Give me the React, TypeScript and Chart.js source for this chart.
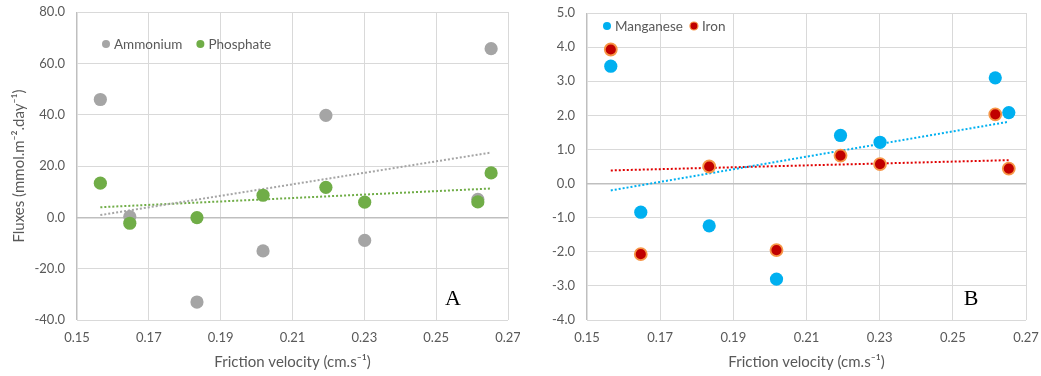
import React, { useEffect, useRef } from "react";
import { Chart, registerables } from "chart.js";

Chart.register(...registerables);

// ---- Data ----
const frictionVelocity = [0.1565, 0.1647, 0.1834, 0.2018, 0.2193, 0.2301, 0.2616, 0.2653];
const ammonium = [45.9, 0.3, -33.0, -13.1, 39.7, -9.0, 7.0, 65.7];
const phosphate = [13.3, -2.3, -0.1, 8.6, 11.7, 5.9, 6.0, 17.3];
const manganese = [3.44, -0.84, -1.24, -2.8, 1.41, 1.21, 3.1, 2.08];
const iron = [3.93, -2.07, 0.5, -1.95, 0.82, 0.57, 2.03, 0.44];

const xTicks = [0.15, 0.17, 0.19, 0.21, 0.23, 0.25, 0.27];
const yTicksA = [-40, -20, 0, 20, 40, 60, 80];
const yTicksB = [-4, -3, -2, -1, 0, 1, 2, 3, 4, 5];

const xTitle = "Friction velocity (cm.s\u207B\u00B9)";
const yTitleA = "Fluxes (mmol.m\u207B\u00B2.day\u207B\u00B9)";

const FONT = "Lato, 'Open Sans', sans-serif";
const TEXT = "#595959";
const GRID = "#d9d9d9";
const AXIS = "#bfbfbf";

const toPoints = (xs: number[], ys: number[]) => xs.map((x, i) => ({ x, y: ys[i] }));

// least-squares linear trendline (as drawn by the spreadsheet) across the data's x range
function trendline(xs: number[], ys: number[]) {
  const n = xs.length;
  const mx = xs.reduce((a, b) => a + b, 0) / n;
  const my = ys.reduce((a, b) => a + b, 0) / n;
  let sxy = 0;
  let sxx = 0;
  for (let i = 0; i < n; i++) {
    sxy += (xs[i] - mx) * (ys[i] - my);
    sxx += (xs[i] - mx) * (xs[i] - mx);
  }
  const slope = sxy / sxx;
  const x0 = Math.min(...xs);
  const x1 = Math.max(...xs);
  return [
    { x: x0, y: my + slope * (x0 - mx) },
    { x: x1, y: my + slope * (x1 - mx) },
  ];
}

type LegendItem = { label: string; fill: string; stroke?: string };

function overlayPlugin(opts: {
  legend: LegendItem[];
  dx: number;
  dy: number;
  gap: number;
  letter: string;
}) {
  return {
    id: "overlay" + opts.letter,
    afterDraw(chart: any) {
      const { ctx, chartArea } = chart;
      ctx.save();
      ctx.font = `13.5px ${FONT}`;
      ctx.textBaseline = "middle";
      ctx.textAlign = "left";
      let x = chartArea.left + opts.dx;
      const y = chartArea.top + opts.dy;
      for (const item of opts.legend) {
        ctx.beginPath();
        ctx.arc(x, y, 4, 0, Math.PI * 2);
        ctx.fillStyle = item.fill;
        ctx.fill();
        if (item.stroke) {
          ctx.lineWidth = 1.2;
          ctx.strokeStyle = item.stroke;
          ctx.stroke();
        }
        ctx.fillStyle = TEXT;
        const tx = x + 8;
        ctx.fillText(item.label, tx, y + 0.5);
        const w = ctx.measureText(item.label).width;
        x = tx + w + opts.gap;
      }
      ctx.font = `22px 'Liberation Serif', 'DejaVu Serif', serif`;
      ctx.fillStyle = "#000";
      ctx.textAlign = "center";
      ctx.textBaseline = "alphabetic";
      ctx.fillText(opts.letter, chartArea.right - 55, chartArea.bottom - 15);
      ctx.restore();
    },
  };
}

function makeConfig(p: {
  datasets: any[];
  yTicks: number[];
  yWidth: number;
  yTitle?: string;
  decimals: number;
  padding: { top: number; right: number };
  plugin: any;
}) {
  const yMin = Math.min(...p.yTicks);
  const yMax = Math.max(...p.yTicks);
  return {
    type: "scatter",
    data: { datasets: p.datasets },
    plugins: [p.plugin],
    options: {
      responsive: false,
      animation: false,
      devicePixelRatio: 1,
      layout: {
        autoPadding: false,
        padding: { left: 0, right: p.padding.right, top: p.padding.top, bottom: 0 },
      },
      plugins: {
        legend: { display: false },
        tooltip: { enabled: false },
        title: { display: false },
      },
      scales: {
        x: {
          type: "linear",
          min: xTicks[0],
          max: xTicks[xTicks.length - 1],
          afterBuildTicks: (s: any) => {
            s.ticks = xTicks.map((v) => ({ value: v }));
          },
          afterFit: (s: any) => {
            s.height = 56;
            s.paddingLeft = 0;
            s.paddingRight = 0;
            s.paddingTop = 0;
            s.paddingBottom = 0;
          },
          grid: {
            color: (c: any) => (c.tick && Math.abs(c.tick.value - xTicks[0]) < 1e-9 ? AXIS : GRID),
            lineWidth: (c: any) => (c.tick && Math.abs(c.tick.value - xTicks[0]) < 1e-9 ? 1.5 : 1),
            drawTicks: false,
          },
          border: { display: false },
          ticks: {
            padding: 10,
            color: TEXT,
            autoSkip: false,
            maxRotation: 0,
            font: { family: FONT, size: 13 },
            callback: (v: any) => Number(v).toFixed(2),
          },
          title: {
            display: true,
            text: xTitle,
            color: TEXT,
            font: { family: FONT, size: 15 },
            padding: { top: 0, bottom: 5 },
          },
        },
        y: {
          type: "linear",
          min: yMin,
          max: yMax,
          afterBuildTicks: (s: any) => {
            s.ticks = p.yTicks.map((v) => ({ value: v }));
          },
          afterFit: (s: any) => {
            s.width = p.yWidth;
            s.paddingLeft = 0;
            s.paddingRight = 0;
            s.paddingTop = 0;
            s.paddingBottom = 0;
          },
          grid: {
            color: (c: any) => (c.tick && c.tick.value === 0 ? AXIS : GRID),
            lineWidth: (c: any) => (c.tick && c.tick.value === 0 ? 1.5 : 1),
            drawTicks: false,
          },
          border: { display: false },
          ticks: {
            padding: 12,
            color: TEXT,
            autoSkip: false,
            font: { family: FONT, size: 13 },
            callback: (v: any) => Number(v).toFixed(p.decimals),
          },
          title: p.yTitle
            ? {
                display: true,
                text: p.yTitle,
                color: TEXT,
                font: { family: FONT, size: 15 },
                padding: { top: 10, bottom: 0 },
              }
            : { display: false },
        },
      },
    },
  };
}

function pointSet(label: string, ys: number[], fill: string, order: number, stroke?: string) {
  return {
    label,
    data: toPoints(frictionVelocity, ys),
    backgroundColor: fill,
    borderColor: stroke || fill,
    borderWidth: stroke ? 1.8 : 0,
    pointRadius: stroke ? 6 : 6.6,
    pointHoverRadius: 6.6,
    showLine: false,
    order,
  };
}

function trendSet(ys: number[], color: string, order: number) {
  return {
    label: "trend",
    data: trendline(frictionVelocity, ys),
    showLine: true,
    borderColor: color,
    borderWidth: 2,
    borderDash: [2, 2],
    pointRadius: 0,
    fill: false,
    order,
  };
}

function ChartCanvas({ config, width, height }: { config: any; width: number; height: number }) {
  const ref = useRef<HTMLCanvasElement | null>(null);
  useEffect(() => {
    if (!ref.current) return;
    const chart = new Chart(ref.current, config);
    return () => chart.destroy();
  }, [config]);
  return <canvas ref={ref} width={width} height={height} style={{ display: "block", width, height }} />;
}

const configA = makeConfig({
  datasets: [
    pointSet("Phosphate", phosphate, "#70ad47", 0),
    pointSet("Ammonium", ammonium, "#a5a5a5", 1),
    trendSet(ammonium, "#a5a5a5", 2),
    trendSet(phosphate, "#70ad47", 3),
  ],
  yTicks: yTicksA,
  yWidth: 77,
  yTitle: yTitleA,
  decimals: 1,
  padding: { top: 12, right: 12 },
  plugin: overlayPlugin({
    legend: [
      { label: "Ammonium", fill: "#a5a5a5" },
      { label: "Phosphate", fill: "#70ad47" },
    ],
    dx: 29,
    dy: 32,
    gap: 18,
    letter: "A",
  }),
});

const configB = makeConfig({
  datasets: [
    pointSet("Manganese", manganese, "#00b0f0", 0),
    pointSet("Iron", iron, "#c00000", 1, "#f79646"),
    trendSet(manganese, "#00b0f0", 2),
    trendSet(iron, "#e00000", 3),
  ],
  yTicks: yTicksB,
  yWidth: 67,
  decimals: 1,
  padding: { top: 13, right: 15 },
  plugin: overlayPlugin({
    legend: [
      { label: "Manganese", fill: "#00b0f0" },
      { label: "Iron", fill: "#c00000", stroke: "#f79646" },
    ],
    dx: 20,
    dy: 13,
    gap: 11,
    letter: "B",
  }),
});

export default function App() {
  return (
    <div
      style={{
        position: "fixed",
        left: 0,
        top: 0,
        width: 1041,
        height: 376,
        background: "#fff",
        overflow: "hidden",
      }}
    >
      <div style={{ position: "absolute", left: 0, top: 0 }}>
        <ChartCanvas config={configA} width={520} height={376} />
      </div>
      <div style={{ position: "absolute", left: 520, top: 0 }}>
        <ChartCanvas config={configB} width={521} height={376} />
      </div>
    </div>
  );
}
